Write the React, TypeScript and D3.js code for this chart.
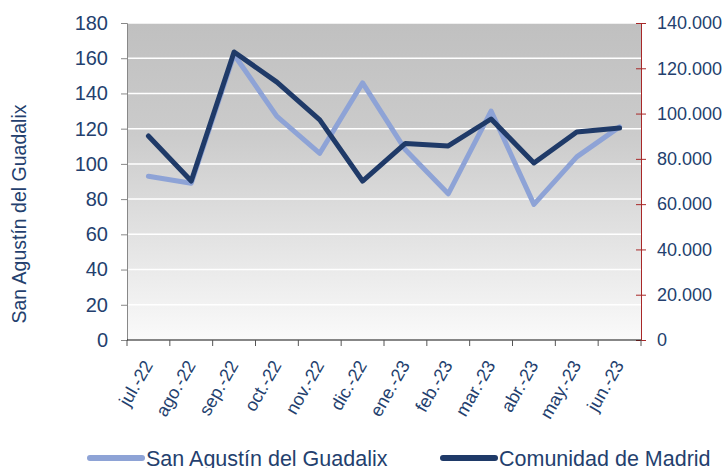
import React, { useEffect, useRef } from "react";
import * as d3 from "d3";

const months = ["jul.-22", "ago.-22", "sep.-22", "oct.-22", "nov.-22", "dic.-22", "ene.-23", "feb.-23", "mar.-23", "abr.-23", "may.-23", "jun.-23"];
const sanAgustin = [93, 89, 162, 127, 106, 146, 108, 83, 130, 77, 104, 121];
const madrid = [90100, 70200, 127200, 113900, 97200, 70200, 86800, 85700, 97600, 78200, 91900, 93600];
const leftTicks = [0, 20, 40, 60, 80, 100, 120, 140, 160, 180];
const rightTicks = [0, 20000, 40000, 60000, 80000, 100000, 120000, 140000];

export default function App() {
  const ref = useRef<SVGSVGElement>(null);

  useEffect(() => {
    const svg = d3.select(ref.current);
    svg.selectAll("*").remove();
    const left = 127, right = 641, top = 23, bottom = 340;
    const navy = "#243f6e";
    const font = "Liberation Sans, Arial, sans-serif";

    const x = d3.scaleBand().domain(months).range([left, right]);
    const yL = d3.scaleLinear().domain([0, 180]).range([bottom, top]);
    const yR = d3.scaleLinear().domain([0, 140000]).range([bottom, top]);

    const defs = svg.append("defs");
    const grad = defs.append("linearGradient").attr("id", "bg").attr("x1", 0).attr("y1", 0).attr("x2", 0).attr("y2", 1);
    grad.append("stop").attr("offset", "0%").attr("stop-color", "#c0c0c0");
    grad.append("stop").attr("offset", "35%").attr("stop-color", "#cbcbcb");
    grad.append("stop").attr("offset", "100%").attr("stop-color", "#fafafa");

    svg.append("rect").attr("x", left).attr("y", top).attr("width", right - left).attr("height", bottom - top).attr("fill", "url(#bg)");

    // gridlines
    svg.append("g").selectAll("line").data(leftTicks.filter(d => d > 0)).join("line")
      .attr("x1", left).attr("x2", right).attr("y1", d => yL(d)).attr("y2", d => yL(d))
      .attr("stroke", "#ffffff").attr("stroke-width", 1.5);

    // left axis
    const gl = svg.append("g").attr("transform", `translate(${left},0)`)
      .call(d3.axisLeft(yL).tickValues(leftTicks).tickSize(6).tickPadding(13));
    gl.select(".domain").attr("stroke", "#888");
    gl.selectAll(".tick line").attr("stroke", "#888");
    gl.selectAll("text").attr("font-family", font).attr("font-size", 20).attr("fill", navy);

    // right axis
    const gr = svg.append("g").attr("transform", `translate(${right},0)`)
      .call(d3.axisRight(yR).tickValues(rightTicks).tickSize(5).tickPadding(11)
        .tickFormat(d => d3.format(",")(d as number).replace(/,/g, ".")));
    gr.select(".domain").attr("stroke", "#a82828");
    gr.selectAll(".tick line").attr("stroke", "#a82828").attr("x1", -5);
    gr.selectAll("text").attr("font-family", font).attr("font-size", 18).attr("fill", navy);

    // bottom axis
    const gb = svg.append("g").attr("transform", `translate(0,${bottom})`);
    gb.append("line").attr("x1", left).attr("x2", right).attr("stroke", "#111");
    gb.selectAll(".bt").data(d3.range(months.length + 1)).join("line")
      .attr("x1", i => left + i * x.step()).attr("x2", i => left + i * x.step())
      .attr("y1", 0).attr("y2", 6).attr("stroke", "#555");
    gb.selectAll("text").data(months).join("text")
      .attr("transform", d => `translate(${(x(d) as number) + x.bandwidth() / 2 + 5},${25}) rotate(-60)`)
      .attr("text-anchor", "end").attr("font-family", font).attr("font-size", 18).attr("fill", navy)
      .text(d => d);

    const cx = (d: string) => (x(d) as number) + x.bandwidth() / 2;

    const lineL = d3.line<number>().x((_, i) => cx(months[i])).y(d => yL(d));
    const lineR = d3.line<number>().x((_, i) => cx(months[i])).y(d => yR(d));

    svg.append("path").attr("d", lineL(sanAgustin)).attr("fill", "none").attr("stroke", "#8ea3d6")
      .attr("stroke-width", 5).attr("stroke-linejoin", "round").attr("stroke-linecap", "round");
    svg.append("path").attr("d", lineR(madrid)).attr("fill", "none").attr("stroke", "#1f3a68")
      .attr("stroke-width", 5).attr("stroke-linejoin", "round").attr("stroke-linecap", "round");

    // y title
    svg.append("text").attr("transform", "translate(26,214) rotate(-90)").attr("text-anchor", "middle")
      .attr("font-family", font).attr("font-size", 19.5).attr("fill", navy).text("San Agustín del Guadalix");

    // legend
    const leg = [
      { label: "San Agustín del Guadalix", color: "#8ea3d6", x: 88 },
      { label: "Comunidad de Madrid", color: "#1f3a68", x: 441 },
    ];
    const lg = svg.append("g").selectAll("g").data(leg).join("g").attr("transform", d => `translate(${d.x},458)`);
    lg.append("line").attr("x1", 2).attr("x2", 54).attr("stroke", d => d.color).attr("stroke-width", 6).attr("stroke-linecap", "round");
    lg.append("text").attr("x", 58).attr("y", 7.5).attr("font-family", font).attr("font-size", 21.5).attr("fill", navy).text(d => d.label);
  }, []);

  return (
    <svg ref={ref} width={726} height={468} style={{ position: "absolute", left: 0, top: 0 }} />
  );
}
